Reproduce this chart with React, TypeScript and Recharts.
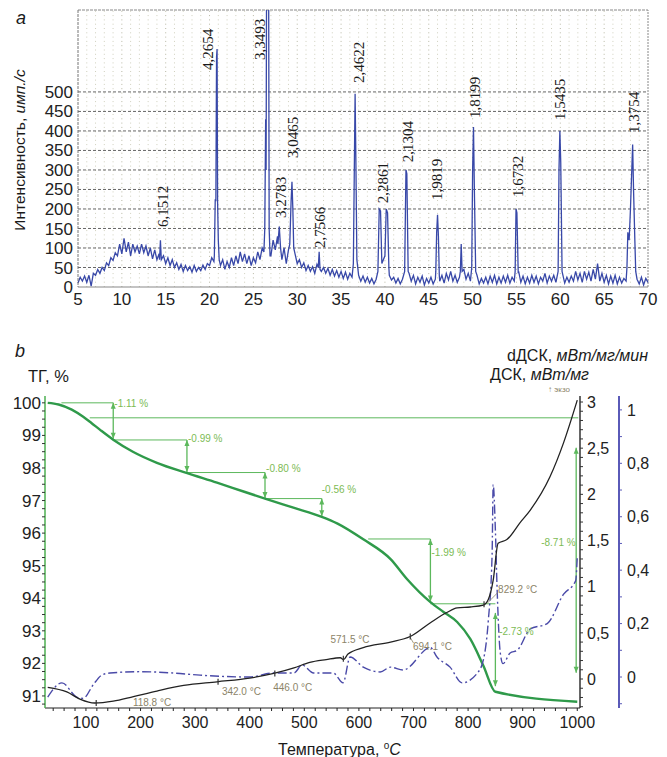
import React from 'react';
import { LineChart, ComposedChart, Line, XAxis, YAxis, ReferenceLine, ReferenceDot } from 'recharts';

// ---------- panel a: X-ray pattern ----------
// background counts, read every 0.25 deg from 5 to 70
const XRD_START = 5;
const XRD_STEP = 0.25;
const xrdBackground = [
  10, 25, 15, 28, 12, 30, 2, 35, 30, 45, 35, 50, 42, 62, 55, 75, 68, 88, 80, 110,
  85, 125, 90, 115, 80, 110, 90, 105, 85, 110, 88, 105, 80, 100, 72, 95, 70, 85, 65, 80,
  60, 75, 55, 70, 50, 62, 45, 58, 40, 55, 42, 52, 38, 55, 40, 50, 42, 56, 45, 60,
  55, 75, 65, 70, 60, 55, 70, 45, 65, 50, 75, 55, 80, 60, 90, 65, 85, 60, 80, 55,
  75, 62, 90, 70, 100, 85, 90, 90, 80, 120, 95, 130, 110, 70, 100, 60, 95, 100, 100, 85,
  60, 70, 50, 62, 42, 55, 40, 52, 35, 58, 45, 40, 50, 35, 48, 30, 45, 28, 42, 25,
  40, 22, 38, 20, 35, 25, 40, 40, 30, 15, 28, 12, 25, 10, 22, 8, 20, 30, 30, 30,
  30, 30, 30, 18, 25, 10, 22, 8, 20, 30, 30, 35, 15, 30, 8, 25, 12, 28, 5, 22,
  10, 25, 8, 20, 20, 15, 30, 10, 35, 18, 40, 15, 30, 12, 25, 40, 45, 20, 35, 15,
  40, 40, 30, 8, 22, 10, 25, 8, 28, 12, 30, 8, 25, 10, 28, 12, 30, 10, 25, 15,
  30, 40, 12, 28, 8, 25, 10, 30, 12, 28, 8, 25, 15, 35, 10, 28, 15, 30, 12, 30,
  30, 35, 10, 25, 12, 28, 15, 40, 18, 35, 12, 40, 20, 38, 15, 45, 20, 60, 15, 35,
  12, 30, 8, 28, 10, 30, 8, 25, 10, 22, 15, 40, 40, 40, 40, 20, 8, 25, 5, 22,
  12,
];

// reflections: [2theta, counts] points
const xrdPeaks = [
  [[14.3, 70], [14.4, 120], [14.5, 70]],
  [[20.55, 80], [20.65, 225], [20.72, 220], [20.8, 590], [20.86, 610], [20.92, 215], [21.0, 120], [21.1, 70]],
  [[26.2, 90], [26.3, 150], [26.4, 430], [26.45, 300], [26.55, 1200], [26.7, 1200], [26.8, 150], [26.9, 80]],
  [[27.8, 110], [27.95, 155], [28.1, 100]],
  [[29.15, 110], [29.3, 220], [29.4, 270], [29.5, 200], [29.6, 100]],
  [[32.4, 50], [32.5, 90], [32.6, 45]],
  [[36.4, 60], [36.5, 280], [36.6, 495], [36.7, 300], [36.8, 70]],
  [[39.2, 40], [39.35, 200], [39.5, 195], [39.65, 60], [40.0, 80], [40.15, 200], [40.3, 190], [40.45, 50]],
  [[42.25, 40], [42.4, 300], [42.5, 290], [42.65, 40]],
  [[45.8, 40], [45.9, 140], [46.0, 185], [46.1, 130], [46.2, 30]],
  [[48.6, 40], [48.7, 110], [48.8, 40]],
  [[49.9, 50], [50.0, 300], [50.1, 410], [50.2, 250], [50.35, 40]],
  [[54.85, 40], [54.95, 200], [55.05, 190], [55.2, 35]],
  [[59.75, 40], [59.85, 300], [59.95, 400], [60.05, 320], [60.2, 40]],
  [[67.6, 50], [67.7, 140], [67.85, 120], [68.0, 200], [68.15, 300], [68.25, 365], [68.35, 250], [68.5, 120], [68.6, 40]],
];

const peakLabels = ['6,1512', '4,2654', '3,3493', '3,2783', '3,0465', '2,7566', '2,4622', '2,2861', '2,1304', '1,9819', '1,8199', '1,6732', '1,5435', '1,3754'];
const peakLabelAngle = [14.71, 19.85, 25.79, 28.19, 29.56, 32.64, 36.99, 39.73, 42.58, 45.9, 50.24, 55.15, 59.95, 68.4];
const peakLabelCount = [154, 556, 582, 177, 331, 100, 523, 215, 320, 223, 433, 231, 428, 395];

const xrdTicksX = [5, 10, 15, 20, 25, 30, 35, 40, 45, 50, 55, 60, 65, 70];
const xrdTicksY = [0, 50, 100, 150, 200, 250, 300, 350, 400, 450, 500];

// ---------- panel b: thermal analysis ----------
const tgTemp = [30, 50, 74, 95, 110, 126, 150, 186, 230, 284, 340, 390, 428, 480, 532, 560, 608, 658, 688, 731, 755, 780, 804, 828, 850, 1000];
const tgValue = [100, 99.95, 99.79, 99.57, 99.38, 99.17, 98.87, 98.5, 98.16, 97.85, 97.55, 97.27, 97.06, 96.78, 96.5, 96.3, 95.81, 95.2, 94.59, 93.88, 93.58, 93.27, 92.75, 91.93, 91.13, 90.82];

const dscTemp = [30, 65, 90, 116, 150, 187, 230, 279, 340, 400, 444, 481, 510, 540, 566, 572, 580, 608, 658, 694, 731, 761, 780, 804, 828, 837, 846, 855, 871, 896, 914, 950, 975, 1000];
const dscValue = [-0.09, -0.14, -0.22, -0.26, -0.24, -0.19, -0.13, -0.07, -0.03, 0.01, 0.06, 0.12, 0.18, 0.21, 0.23, 0.21, 0.27, 0.34, 0.4, 0.46, 0.61, 0.72, 0.77, 0.78, 0.8, 0.86, 1.07, 1.47, 1.51, 1.7, 1.83, 2.19, 2.56, 3.02];

const ddscTemp = [30, 56, 83, 95, 113, 129, 144, 199, 260, 309, 400, 444, 481, 496, 517, 553, 571, 584, 608, 639, 658, 681, 731, 743, 767, 789, 817, 828, 837, 844, 846, 850, 853, 859, 864, 877, 890, 914, 945, 975, 997, 1000];
const ddscValue = [-0.075, -0.022, -0.075, -0.08, -0.03, 0.007, 0.015, 0.02, 0.015, 0.007, 0.0, 0.015, 0.015, 0.045, 0.015, 0.015, -0.022, 0.075, 0.037, 0.019, 0.037, 0.026, 0.11, 0.075, 0.037, -0.022, 0.015, 0.064, 0.21, 0.46, 0.72, 0.55, 0.34, 0.09, 0.05, 0.09, 0.1, 0.18, 0.2, 0.31, 0.36, 0.45];

const tempTickLabels = [100, 200, 300, 400, 500, 600, 700, 800, 900, 1000];
const tgTickLabels = [91, 92, 93, 94, 95, 96, 97, 98, 99, 100];
const dscTickLabels = [0, 0.5, 1, 1.5, 2, 2.5, 3];
const ddscTickLabels = [0, 0.2, 0.4, 0.6, 0.8, 1];

// TG step marks
const stepLineFrom = [55, 150, 285, 428, 617, 731];
const stepLineTo = [150, 285, 428, 532, 731, 850];
const stepLineLevel = [100, 98.86, 97.86, 97.06, 95.82, 93.83];
const arrowTemp = [150, 285, 428, 532, 731, 850, 998];
const arrowTop = [100, 98.86, 97.86, 97.06, 95.82, 93.55, 98.62];
const arrowBottom = [98.9, 97.88, 97.08, 96.52, 93.9, 91.3, 91.71];
const stepText = ['-1.11 %', '-0.99 %', '-0.80 %', '-0.56 %', '-1.99 %', '-2.73 %', '-8.71 %'];
const stepTextTemp = [152, 287, 430, 532, 733, 857, 997];
const stepTextLevel = [99.98, 98.9, 97.98, 97.33, 95.4, 92.98, 95.72];

// DSC peak temperatures
const dscMarkText = ['118.8 °C', '342.0 °C', '446.0 °C', '571.5 °C', '694.1 °C', '829.2 °C'];
const dscMarkTemp = [186, 349, 443, 548, 699, 855];
const dscMarkLevel = [-0.25, -0.14, -0.09, 0.43, 0.35, 0.97];
const dscPointTemp = [118.8, 342, 446, 571.5, 694.1, 829.2];
const dscPointLevel = [-0.26, -0.03, 0.06, 0.22, 0.46, 0.81];

const SANS = "'Liberation Sans', Arial, sans-serif";
const SERIF = "'Liberation Serif', 'Times New Roman', serif";

const peakSpans = xrdPeaks.map((p) => [p[0][0], p[p.length - 1][0]]);
const xrdData = [
  ...xrdBackground
    .map((c, i) => ({ angle: XRD_START + i * XRD_STEP, count: c }))
    .filter((d) => !peakSpans.some(([a, b]) => d.angle >= a && d.angle <= b)),
  ...xrdPeaks.flat().map(([angle, count]) => ({ angle, count })),
].sort((a, b) => a.angle - b.angle);

const xrdGridX = Array.from({ length: 64 }, (_, i) => 6 + i);

const tgData = tgTemp.map((t, i) => ({ t, tg: tgValue[i] }));
const dscData = dscTemp.map((t, i) => ({ t, dsc: dscValue[i] }));
const ddscData = ddscTemp.map((t, i) => ({ t, ddsc: ddscValue[i] }));

const tempTicks = Array.from({ length: 49 }, (_, i) => 40 + i * 20);
const tgTicks = Array.from({ length: 38 }, (_, i) => 90.75 + i * 0.25);
const dscTicks = Array.from({ length: 34 }, (_, i) => (i - 3) / 10);
const ddscTicks = Array.from({ length: 12 }, (_, i) => (i - 1) / 10);

const comma = (v: number) => String(v).replace('.', ',');

const peakLabel = (text: string) => (p: any) => (
  <text
    x={p.cx}
    y={p.cy}
    transform={`rotate(-90 ${p.cx} ${p.cy})`}
    textAnchor="start"
    dominantBaseline="central"
    fontFamily={SERIF}
    fontSize={15}
    fill="#1a1a1a"
  >
    {text}
  </text>
);

const arrowHead = (up: boolean) => (p: any) => (
  <path
    d={up ? `M${p.cx},${p.cy} L${p.cx - 2.5},${p.cy + 6} L${p.cx + 2.5},${p.cy + 6} Z` : `M${p.cx},${p.cy} L${p.cx - 2.5},${p.cy - 6} L${p.cx + 2.5},${p.cy - 6} Z`}
    fill="#5cb85c"
  />
);

const smallText = (text: string, color: string, anchor: string) => (p: any) => (
  <text x={p.cx} y={p.cy} textAnchor={anchor} dominantBaseline="central" fontFamily={SANS} fontSize={10} fill={color}>
    {text}
  </text>
);

const markTick = (p: any) => <line x1={p.cx} y1={p.cy - 3} x2={p.cx} y2={p.cy + 3} stroke="#333" strokeWidth={1.2} />;

const abs = (left: number, top: number, extra: React.CSSProperties = {}): React.CSSProperties => ({
  position: 'absolute',
  left,
  top,
  fontFamily: SANS,
  lineHeight: 1,
  whiteSpace: 'nowrap',
  color: '#1a1a1a',
  ...extra,
});

export default function App() {
  return (
    <div style={{ position: 'absolute', left: 0, top: 0, width: 667, height: 757, background: '#fff', overflow: 'hidden' }}>
      {/* panel a */}
      <div style={{ position: 'absolute', left: 0, top: 0 }}>
        <LineChart width={667} height={320} data={xrdData} margin={{ top: 10, right: 19, bottom: 0, left: 0 }}>
          <XAxis
            type="number"
            dataKey="angle"
            domain={[5, 70]}
            ticks={xrdTicksX}
            interval={0}
            height={33}
            tickLine={false}
            tickSize={4}
            axisLine={{ stroke: '#888' }}
            tick={{ fontSize: 17, fill: '#222', fontFamily: SANS }}
          />
          <YAxis
            type="number"
            domain={[0, 710]}
            allowDataOverflow
            ticks={xrdTicksY}
            interval={0}
            width={78}
            tickLine={false}
            tickSize={3}
            axisLine={{ stroke: '#777', strokeDasharray: '3 1' }}
            tick={{ fontSize: 17, fill: '#222', fontFamily: SANS }}
          />
          {xrdGridX.map((g) => (
            <ReferenceLine key={`gx${g}`} x={g} stroke={g % 5 === 0 ? '#b8b8a4' : '#cfcfbd'} strokeDasharray="1 3.3" />
          ))}
          {xrdTicksY.slice(1).map((g) => (
            <ReferenceLine key={`gy${g}`} y={g} stroke="#666" strokeDasharray="3 2" />
          ))}
          <ReferenceLine y={710} stroke="#888" strokeDasharray="3 1" />
          <ReferenceLine x={70} stroke="#888" strokeDasharray="2 1" />
          <Line type="linear" dataKey="count" stroke="#3848a8" strokeWidth={1.3} dot={false} isAnimationActive={false} />
          {peakLabels.map((t, i) => (
            <ReferenceDot key={t} x={peakLabelAngle[i]} y={peakLabelCount[i]} r={0} shape={peakLabel(t)} />
          ))}
        </LineChart>
      </div>
      <div style={abs(16, 9, { fontSize: 18, fontStyle: 'italic' })}>a</div>
      <div style={abs(20, 150, { fontSize: 15.5, transform: 'translate(-50%, -50%) rotate(-90deg)' })}>
        Интенсивность, <i>имп./с</i>
      </div>

      {/* panel b */}
      <div style={{ position: 'absolute', left: 0, top: 380 }}>
        <ComposedChart width={667} height={377} margin={{ top: 16, right: 0, bottom: 0, left: 0 }}>
          <XAxis
            type="number"
            dataKey="t"
            domain={[25, 1005]}
            allowDataOverflow
            ticks={tempTicks}
            interval={0}
            height={49}
            tickSize={3}
            tickMargin={6}
            tickFormatter={(v: number) => (tempTickLabels.includes(v) ? String(v) : '')}
            axisLine={{ stroke: '#222' }}
            tickLine={{ stroke: '#222' }}
            tick={{ fontSize: 16, fill: '#222', fontFamily: SANS }}
          />
          <YAxis
            yAxisId="tg"
            orientation="left"
            type="number"
            domain={[90.63, 100.21]}
            allowDataOverflow
            ticks={tgTicks}
            interval={0}
            width={45}
            tickSize={3}
            tickMargin={1}
            tickFormatter={(v: number) => (tgTickLabels.includes(v) ? String(v) : '')}
            axisLine={{ stroke: '#4caf50', strokeWidth: 1.5 }}
            tickLine={{ stroke: '#333' }}
            tick={{ fontSize: 17, fill: '#222', fontFamily: SANS }}
          />
          <YAxis
            yAxisId="r1dsc"
            orientation="right"
            type="number"
            domain={[-0.314, 3.065]}
            allowDataOverflow
            ticks={dscTicks}
            interval={0}
            width={39}
            tickSize={3}
            tickMargin={4}
            tickFormatter={(v: number) => (dscTickLabels.includes(v) ? comma(v) : '')}
            axisLine={{ stroke: '#333', strokeWidth: 1.5 }}
            tickLine={{ stroke: '#333' }}
            tick={{ fontSize: 16, fill: '#222', fontFamily: SANS }}
          />
          <YAxis
            yAxisId="r2ddsc"
            orientation="right"
            type="number"
            domain={[-0.116, 1.052]}
            allowDataOverflow
            ticks={ddscTicks}
            interval={0}
            width={48}
            tickSize={3}
            tickMargin={5}
            tickFormatter={(v: number) => (ddscTickLabels.includes(v) ? comma(v) : '')}
            axisLine={{ stroke: '#5a5ab8', strokeWidth: 2 }}
            tickLine={{ stroke: '#5a5ab8' }}
            tick={{ fontSize: 16, fill: '#222', fontFamily: SANS }}
          />

          {/* TG step construction */}
          <ReferenceLine yAxisId="tg" segment={[{ x: 107, y: 99.54 }, { x: 1002, y: 99.54 }]} stroke="#5cb85c" strokeWidth={1} />
          {stepLineFrom.map((f, i) => (
            <ReferenceLine
              key={`sl${i}`}
              yAxisId="tg"
              segment={[{ x: f, y: stepLineLevel[i] }, { x: stepLineTo[i], y: stepLineLevel[i] }]}
              stroke="#5cb85c"
              strokeWidth={1}
            />
          ))}
          {arrowTemp.map((t, i) => (
            <ReferenceLine
              key={`ar${i}`}
              yAxisId="tg"
              segment={[{ x: t, y: arrowTop[i] }, { x: t, y: arrowBottom[i] }]}
              stroke="#5cb85c"
              strokeWidth={1.3}
            />
          ))}
          {arrowTemp.map((t, i) => (
            <ReferenceDot key={`ah${i}`} yAxisId="tg" x={t} y={arrowTop[i]} r={0} shape={arrowHead(true)} />
          ))}
          {arrowTemp.map((t, i) => (
            <ReferenceDot key={`ab${i}`} yAxisId="tg" x={t} y={arrowBottom[i]} r={0} shape={arrowHead(false)} />
          ))}
          {stepText.map((s, i) => (
            <ReferenceDot
              key={`st${i}`}
              yAxisId="tg"
              x={stepTextTemp[i]}
              y={stepTextLevel[i]}
              r={0}
              shape={smallText(s, '#7dbb55', i === stepText.length - 1 ? 'end' : 'start')}
            />
          ))}

          <Line data={tgData} yAxisId="tg" dataKey="tg" type="monotone" stroke="#2f9a4a" strokeWidth={2.4} dot={false} isAnimationActive={false} />
          <Line
            data={ddscData}
            yAxisId="r2ddsc"
            dataKey="ddsc"
            type="monotone"
            stroke="#4a4aa8"
            strokeWidth={1.4}
            strokeDasharray="9 3 2 3"
            dot={false}
            isAnimationActive={false}
          />
          <Line data={dscData} yAxisId="r1dsc" dataKey="dsc" type="monotone" stroke="#222" strokeWidth={1.3} dot={false} isAnimationActive={false} />

          {/* DSC peak temperatures */}
          <ReferenceLine yAxisId="r1dsc" segment={[{ x: 700, y: 0.39 }, { x: 694, y: 0.45 }]} stroke="#8c8468" strokeWidth={0.8} />
          <ReferenceLine yAxisId="r1dsc" segment={[{ x: 855, y: 0.94 }, { x: 835, y: 0.82 }]} stroke="#8c8468" strokeWidth={0.8} />
          {dscPointTemp.map((t, i) => (
            <ReferenceDot key={`dp${i}`} yAxisId="r1dsc" x={t} y={dscPointLevel[i]} r={0} shape={markTick} />
          ))}
          {dscMarkText.map((s, i) => (
            <ReferenceDot key={`dm${i}`} yAxisId="r1dsc" x={dscMarkTemp[i]} y={dscMarkLevel[i]} r={0} shape={smallText(s, '#8c8468', 'start')} />
          ))}
        </ComposedChart>
      </div>
      <div style={abs(15, 342, { fontSize: 18, fontStyle: 'italic' })}>b</div>
      <div style={abs(28, 368, { fontSize: 16.5 })}>ТГ, %</div>
      <div style={abs(0, 348, { fontSize: 16, width: 648, textAlign: 'right' })}>
        dДСК, <i>мВт/мг/мин</i>
      </div>
      <div style={abs(0, 367, { fontSize: 16, width: 589, textAlign: 'right' })}>
        ДСК, <i>мВт/мг</i>
      </div>
      <div style={abs(548, 386, { fontSize: 8, color: '#8c8468' })}>↑ экзо</div>
      <div style={abs(278, 741, { fontSize: 16 })}>
        Температура, <sup style={{ fontSize: 10 }}>o</sup>
        <i>C</i>
      </div>
    </div>
  );
}
